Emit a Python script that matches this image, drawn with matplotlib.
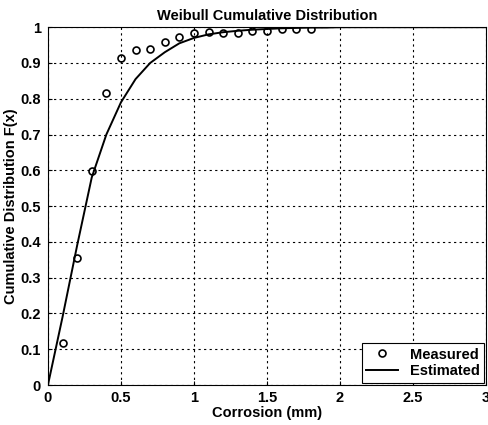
import matplotlib
matplotlib.use("Agg")
import matplotlib.pyplot as plt

plt.rcParams['font.family'] = ['Liberation Sans', 'DejaVu Sans']
plt.rcParams['font.weight'] = 'bold'

# measured points
measured_x = [0.1, 0.2, 0.3, 0.4, 0.5, 0.6, 0.7, 0.8, 0.9, 1.0,
              1.1, 1.2, 1.3, 1.4, 1.5, 1.6, 1.7, 1.8]
measured_f = [0.117, 0.355, 0.597, 0.816, 0.913, 0.936, 0.940, 0.960, 0.974, 0.983,
              0.987, 0.985, 0.985, 0.990, 0.990, 0.996, 0.996, 0.996]

# estimated curve
est_x = [0.0, 0.1, 0.2, 0.3, 0.4, 0.5, 0.6, 0.7, 0.8, 0.9, 1.0,
         1.1, 1.2, 1.3, 1.4, 1.5, 1.6, 1.7, 1.8, 1.9, 2.0,
         2.2, 2.4, 2.6, 2.8, 3.0]
est_f = [0.0, 0.19, 0.39, 0.58, 0.70, 0.79, 0.855, 0.90, 0.93, 0.955, 0.97,
         0.98, 0.986, 0.99, 0.993, 0.995, 0.997, 0.998, 0.999, 0.999, 1.0,
         1.0, 1.0, 1.0, 1.0, 1.0]

xticks = [0, 0.5, 1, 1.5, 2, 2.5, 3]
xtick_labels = ['0', '0.5', '1', '1.5', '2', '2.5', '3']
yticks = [0, 0.1, 0.2, 0.3, 0.4, 0.5, 0.6, 0.7, 0.8, 0.9, 1]
ytick_labels = ['0', '0.1', '0.2', '0.3', '0.4', '0.5', '0.6', '0.7', '0.8', '0.9', '1']

fig = plt.figure(figsize=(4.89, 4.25), dpi=100)
ax = fig.add_axes([0.098, 0.094, 0.896, 0.842])

ax.plot(measured_x, measured_f, 'o', markerfacecolor='none', markeredgecolor='black',
        markersize=5, markeredgewidth=1.2, label='Measured')
ax.plot(est_x, est_f, '-', color='black', linewidth=1.4, label='Estimated')

ax.set_xlim(0, 3)
ax.set_ylim(0, 1)
ax.set_xticks(xticks)
ax.set_xticklabels(xtick_labels)
ax.set_yticks(yticks)
ax.set_yticklabels(ytick_labels)
ax.tick_params(direction='in', labelsize=10.5, length=3)
ax.tick_params(axis='y', pad=5)
ax.tick_params(axis='x', pad=4)
ax.grid(True, linestyle=(0, (2, 3)), color='black', linewidth=0.8)

ax.set_title('Weibull Cumulative Distribution', fontsize=10.5, fontweight='bold', pad=5)
ax.set_xlabel('Corrosion (mm)', fontsize=10.5, fontweight='bold', labelpad=1)
ax.set_ylabel('Cumulative Distribution F(x)', fontsize=10.5, fontweight='bold', labelpad=2)

leg = ax.legend(loc='lower right', fontsize=10.5, fancybox=False, framealpha=1,
                edgecolor='black', borderaxespad=0.15, handlelength=2.2,
                borderpad=0.3, labelspacing=0.2)
leg.get_frame().set_linewidth(0.8)

fig.savefig('out.png', dpi=100)
